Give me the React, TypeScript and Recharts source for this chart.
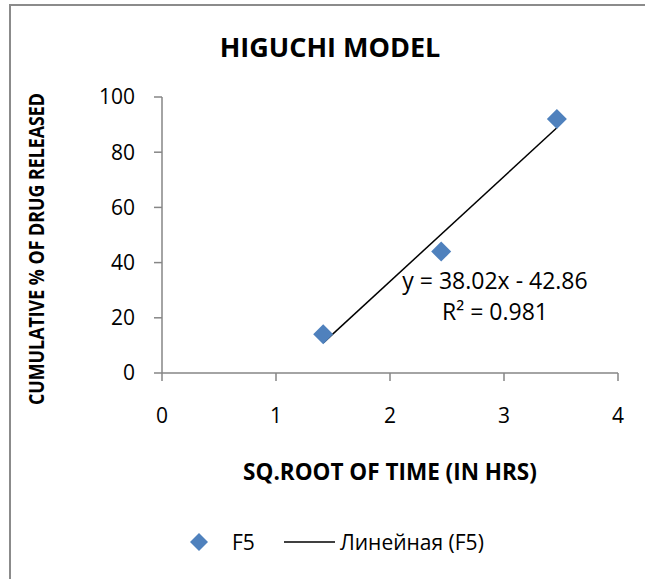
import React from 'react';
import { ComposedChart, Scatter, Line, XAxis, YAxis } from 'recharts';

// Data: square root of time (hrs) vs cumulative % drug released (F5)
const sqrtTime = [1.414, 2.449, 3.464];
const released = [14, 44, 92];
// Linear trendline (Линейная (F5)) endpoints, read from y = 38.02x - 42.86
const trendX = [1.414, 3.464];
const trendY = [10.9, 88.84];
const xTicks = [0, 1, 2, 3, 4];
const yTicks = [0, 20, 40, 60, 80, 100];

const pointData = sqrtTime.map((x, i) => ({ x, y: released[i] }));
const trendData = trendX.map((x, i) => ({ x, t: trendY[i] }));

const FONT = '"Open Sans", sans-serif';
const BLUE = '#4F81BD';
const AXIS = '#868686';

const Diamond = (props: any) => {
  const { cx, cy } = props;
  if (cx == null || cy == null) return null;
  const r = 10;
  return (
    <polygon
      points={`${cx},${cy - r} ${cx + r},${cy} ${cx},${cy + r} ${cx - r},${cy}`}
      fill={BLUE}
    />
  );
};

export default function App() {
  return (
    <div style={{ position: 'absolute', left: 0, top: 0, width: 645, height: 579, overflow: 'hidden', background: '#fff' }}>
      <div style={{ position: 'absolute', left: 9, top: 4, width: 2, height: 600, background: '#8b8b8b' }} />
      <div style={{ position: 'absolute', left: 9, top: 4, width: 660, height: 2, background: '#8b8b8b' }} />
      <div style={{ position: 'absolute', left: 0, top: 0 }}>
        <ComposedChart width={645} height={579} margin={{ top: 97, right: 27, bottom: 176, left: 0 }} style={{ fontFamily: FONT }}>
          <XAxis
            type="number"
            dataKey="x"
            domain={[0, 4]}
            ticks={xTicks}
            height={30}
            tickSize={8}
            tickMargin={27}
            axisLine={{ stroke: AXIS, strokeWidth: 1.5 }}
            tickLine={{ stroke: AXIS, strokeWidth: 1.5 }}
            tick={{ fill: '#000', fontSize: 21, fontFamily: FONT }}
            allowDataOverflow
            label={{
              content: (p: any) => {
                const vb = p.viewBox;
                return (
                  <text x={vb.x + vb.width / 2} y={vb.y + 107} textAnchor="middle" fontSize={22.5} fontWeight="bold" fontFamily={FONT} fill="#000">
                    SQ.ROOT OF TIME (IN HRS)
                  </text>
                );
              },
            }}
          />
          <YAxis
            type="number"
            domain={[0, 100]}
            ticks={yTicks}
            width={162}
            tickSize={8}
            tickMargin={19}
            axisLine={{ stroke: AXIS, strokeWidth: 1.5 }}
            tickLine={{ stroke: AXIS, strokeWidth: 1.5 }}
            tick={{ fill: '#000', fontSize: 21, fontFamily: FONT }}
            label={{
              content: (p: any) => {
                const vb = p.viewBox;
                const cy = vb.y + vb.height / 2 + 14;
                const cx = 44;
                return (
                  <text x={cx} y={cy} transform={`rotate(-90 ${cx} ${cy})`} textAnchor="middle" fontSize={21} fontWeight="bold" fontFamily={FONT} fill="#000" textLength={312} lengthAdjust="spacingAndGlyphs">
                    CUMULATIVE % OF DRUG RELEASED
                  </text>
                );
              },
            }}
          />
          <Line data={trendData} dataKey="t" type="linear" stroke="#000" strokeWidth={1.5} dot={false} isAnimationActive={false} legendType="none" />
          <Scatter data={pointData} dataKey="y" shape={<Diamond />} isAnimationActive={false} />
          <text x={330} y={57} textAnchor="middle" fontSize={27} fontWeight="bold" fontFamily={FONT} fill="#000">HIGUCHI MODEL</text>
          <text x={495} y={289} textAnchor="middle" fontSize={23} fontFamily={FONT} fill="#000">y = 38.02x - 42.86</text>
          <text x={495} y={320} textAnchor="middle" fontSize={23} fontFamily={FONT} fill="#000">R² = 0.981</text>
          <polygon points="199,533 208,542 199,551 190,542" fill={BLUE} />
          <text x={232} y={549.5} fontSize={21} fontFamily={FONT} fill="#000">F5</text>
          <line x1={284} y1={542} x2={335} y2={542} stroke="#000" strokeWidth={1.5} />
          <text x={340} y={549.5} fontSize={21} fontFamily={FONT} fill="#000">Линейная (F5)</text>
        </ComposedChart>
      </div>
    </div>
  );
}
